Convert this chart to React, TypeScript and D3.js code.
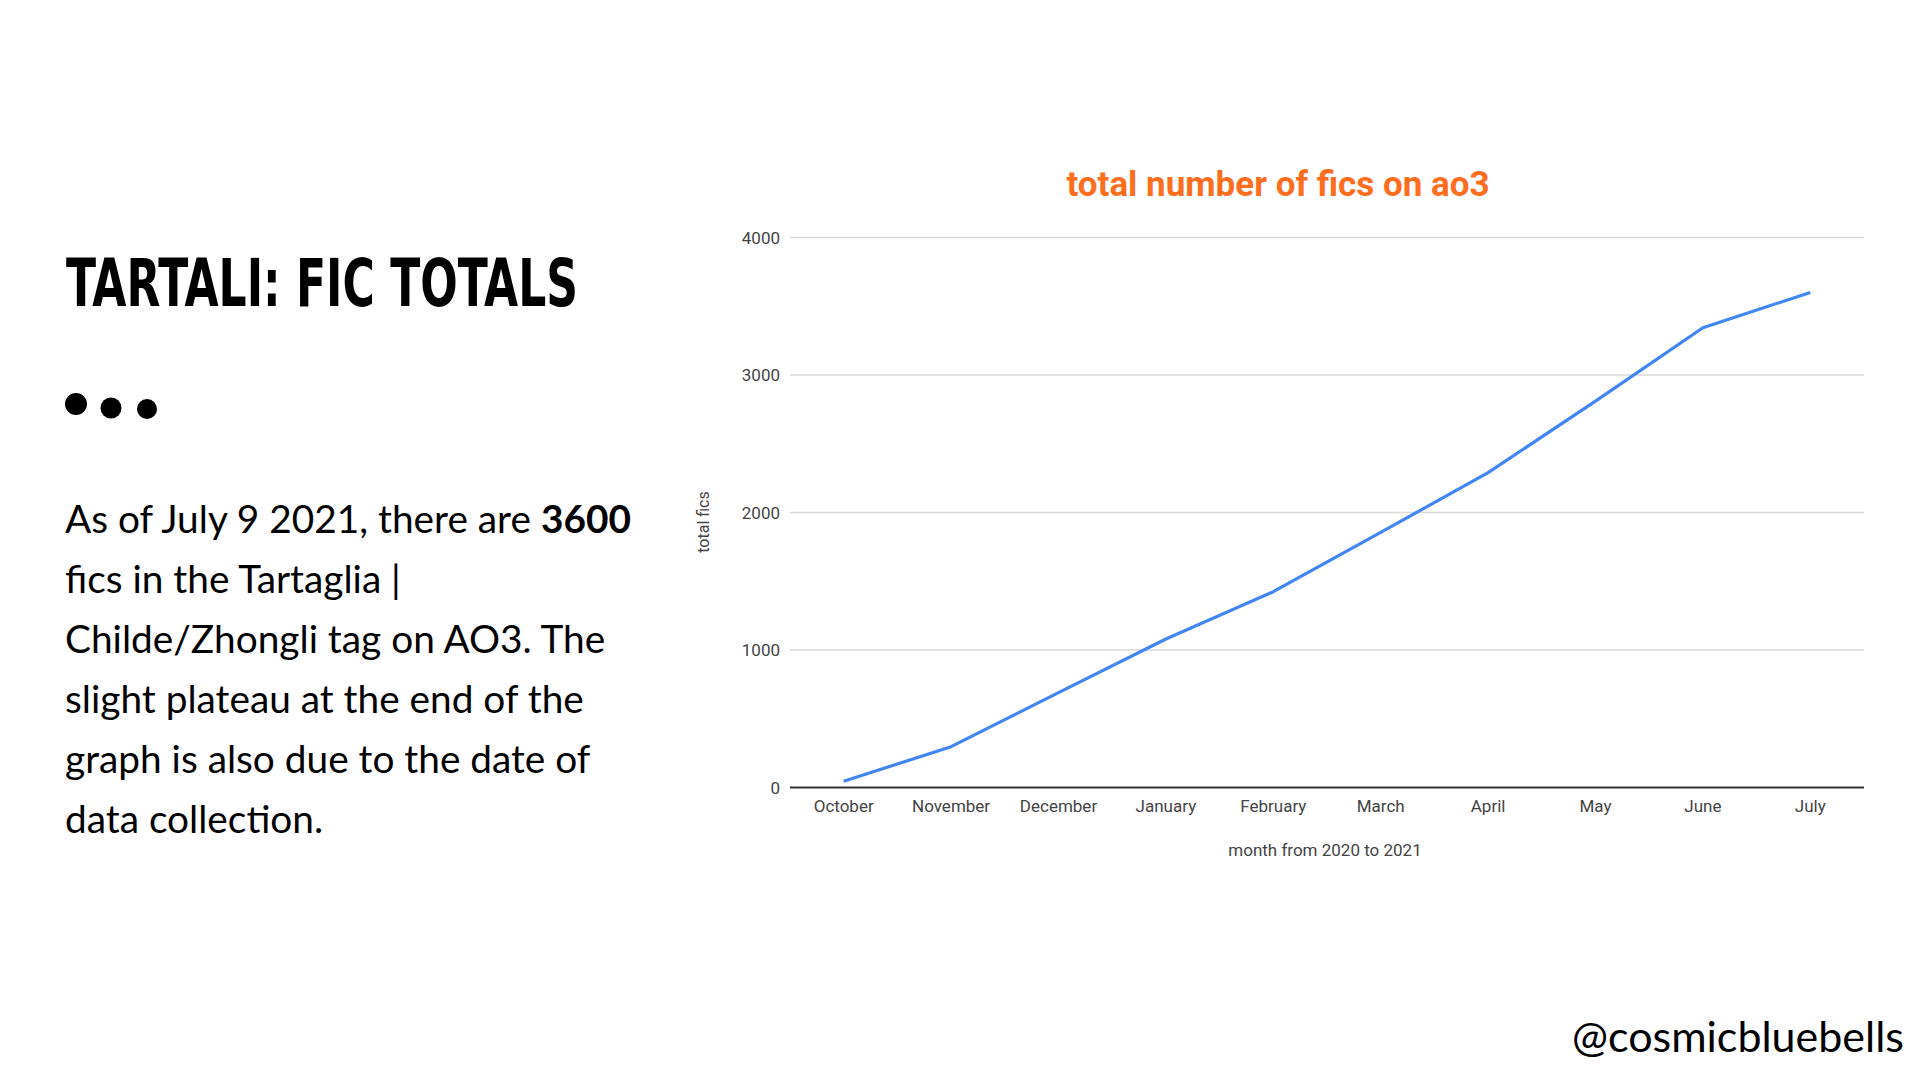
import React, { useEffect, useRef } from "react";
import * as d3 from "d3";

const months = ["October", "November", "December", "January", "February", "March", "April", "May", "June", "July"];
const totals = [45, 297, 690, 1080, 1424, 1855, 2290, 2810, 3344, 3600];
const yTicks = [0, 1000, 2000, 3000, 4000];

const bodyLines: { text: string; bold?: string }[] = [
  { text: "As of July 9 2021, there are ", bold: "3600" },
  { text: "fics in the Tartaglia |" },
  { text: "Childe/Zhongli tag on AO3. The" },
  { text: "slight plateau at the end of the" },
  { text: "graph is also due to the date of" },
  { text: "data collection." },
];

const W = 1920;
const H = 1080;
const plot = { left: 790, right: 1864, top: 237.5, bottom: 787.5 };

export default function App() {
  const ref = useRef<SVGSVGElement>(null);

  useEffect(() => {
    const svg = d3.select(ref.current);
    svg.selectAll("*").remove();

    svg.append("rect").attr("width", W).attr("height", H).attr("fill", "#ffffff");

    // Left panel
    svg
      .append("text")
      .attr("x", 66)
      .attr("y", 306)
      .attr("font-family", "'Liberation Sans Narrow', 'DejaVu Sans Condensed', sans-serif")
      .attr("font-weight", 700)
      .attr("font-size", 66)
      .attr("textLength", 512)
      .attr("lengthAdjust", "spacingAndGlyphs")
      .attr("fill", "#000")
      .text("TARTALI: FIC TOTALS");

    const dots = [
      { cx: 76, cy: 404, r: 11 },
      { cx: 111, cy: 408, r: 10.5 },
      { cx: 147, cy: 409, r: 10 },
    ];
    svg
      .selectAll("circle.dot")
      .data(dots)
      .join("circle")
      .attr("class", "dot")
      .attr("cx", (d) => d.cx)
      .attr("cy", (d) => d.cy)
      .attr("r", (d) => d.r)
      .attr("fill", "#000");

    const body = svg
      .append("g")
      .attr("font-family", "Lato, 'Open Sans', sans-serif")
      .attr("font-size", 38.8)
      .attr("fill", "#000");
    bodyLines.forEach((ln, i) => {
      const t = body.append("text").attr("x", 65).attr("y", 533 + i * 60);
      t.append("tspan").text(ln.text);
      if (ln.bold) t.append("tspan").attr("font-weight", 700).text(ln.bold);
    });

    svg
      .append("text")
      .attr("x", 1904)
      .attr("y", 1052)
      .attr("text-anchor", "end")
      .attr("font-family", "Lato, 'Open Sans', sans-serif")
      .attr("font-size", 43)
      .attr("fill", "#000")
      .text("@cosmicbluebells");

    // Chart
    const x = d3.scalePoint<string>().domain(months).range([plot.left, plot.right]).padding(0.5);
    const y = d3.scaleLinear().domain([0, 4000]).range([plot.bottom, plot.top]);

    svg
      .append("text")
      .attr("x", 1278)
      .attr("y", 196)
      .attr("text-anchor", "middle")
      .attr("font-family", "Roboto, sans-serif")
      .attr("font-weight", 700)
      .attr("font-size", 35)
      .attr("fill", "#ff6d1f")
      .text("total number of fics on ao3");

    const grid = svg.append("g");
    grid
      .selectAll("line")
      .data(yTicks.filter((d) => d !== 0))
      .join("line")
      .attr("x1", plot.left)
      .attr("x2", plot.right)
      .attr("y1", (d) => y(d))
      .attr("y2", (d) => y(d))
      .attr("stroke", "#d9d9d9")
      .attr("stroke-width", 1.5);

    svg
      .append("g")
      .selectAll("text")
      .data(yTicks)
      .join("text")
      .attr("x", 780)
      .attr("y", (d) => y(d) + 6)
      .attr("text-anchor", "end")
      .attr("font-family", "Roboto, sans-serif")
      .attr("font-size", 17)
      .attr("fill", "#444")
      .text((d) => String(d));

    svg
      .append("line")
      .attr("x1", plot.left)
      .attr("x2", plot.right)
      .attr("y1", y(0))
      .attr("y2", y(0))
      .attr("stroke", "#333")
      .attr("stroke-width", 2);

    svg
      .append("g")
      .selectAll("text")
      .data(months)
      .join("text")
      .attr("x", (d) => x(d) as number)
      .attr("y", 812)
      .attr("text-anchor", "middle")
      .attr("font-family", "Roboto, sans-serif")
      .attr("font-size", 17)
      .attr("fill", "#444")
      .text((d) => d);

    svg
      .append("text")
      .attr("x", 1325)
      .attr("y", 856)
      .attr("text-anchor", "middle")
      .attr("font-family", "Roboto, sans-serif")
      .attr("font-size", 17)
      .attr("fill", "#444")
      .text("month from 2020 to 2021");

    svg
      .append("text")
      .attr("transform", "translate(709,522) rotate(-90)")
      .attr("text-anchor", "middle")
      .attr("font-family", "Roboto, sans-serif")
      .attr("font-size", 16)
      .attr("fill", "#444")
      .text("total fics");

    const line = d3
      .line<number>()
      .x((_, i) => x(months[i]) as number)
      .y((d) => y(d));

    svg
      .append("path")
      .datum(totals)
      .attr("d", line)
      .attr("fill", "none")
      .attr("stroke", "#4285f4")
      .attr("stroke-width", 3.2)
      .attr("stroke-linejoin", "round");
  }, []);

  return (
    <svg
      ref={ref}
      width={W}
      height={H}
      style={{ position: "absolute", left: 0, top: 0, display: "block" }}
    />
  );
}
